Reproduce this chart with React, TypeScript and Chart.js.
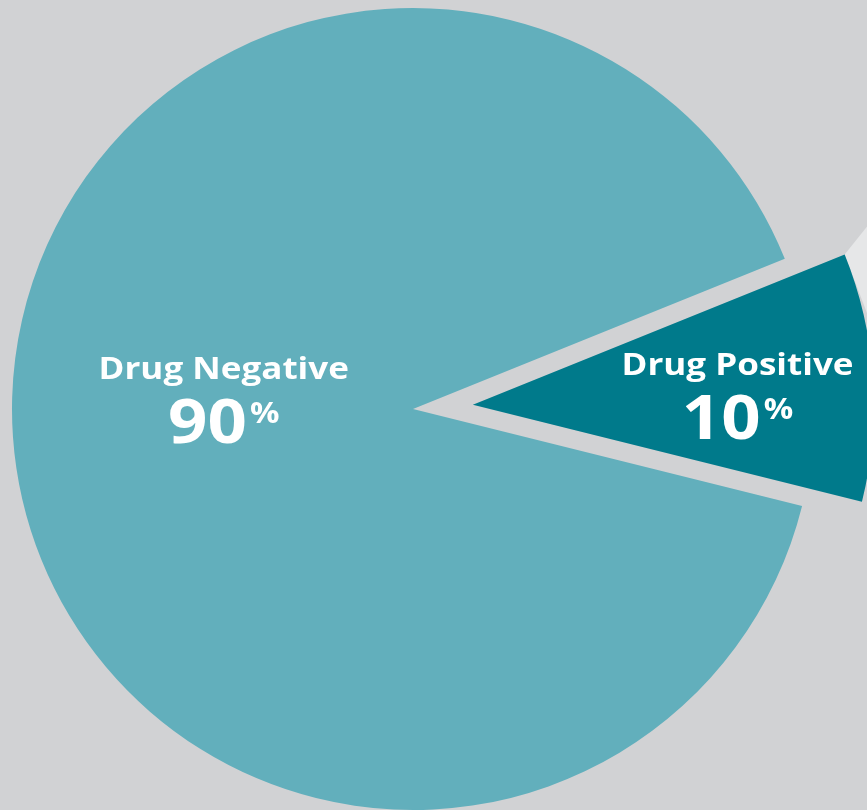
import React, { useEffect, useRef } from 'react';
import { Chart, registerables } from 'chart.js';

Chart.register(...registerables);

const categories = ['Drug Negative', 'Drug Positive'];
const shares = [90, 10];
const shareLabels = ['90', '10'];
const sliceColors = ['#62afbc', '#007a8b'];
const slicePull = [0, 60];

const BG = '#d1d2d4';
const FONT = '"Open Sans", Lato, sans-serif';
const STRETCH = 1.13;

// text spots relative to each slice centre (fraction of radius)
const labelSpots = [
    { dx: -0.472, dy: 0 },
    { dx: 0.66, dy: 0 },
];

const stretchedText = (ctx: CanvasRenderingContext2D, text: string, x: number, y: number) => {
    ctx.save();
    ctx.translate(x, y);
    ctx.scale(STRETCH, 1);
    ctx.fillText(text, 0, 0);
    ctx.restore();
};

const labelPlugin = {
    id: 'sliceLabels',
    afterUpdate(chart: any) {
        // pull slices out along their mid angle, keeping the same radius
        chart.getDatasetMeta(0).data.forEach((arc: any, i: number) => {
            const pull = slicePull[i] || 0;
            if (!pull) return;
            const mid = (arc.startAngle + arc.endAngle) / 2;
            arc.x += Math.cos(mid) * pull;
            arc.y += Math.sin(mid) * pull;
        });
    },
    beforeDatasetsDraw(chart: any) {
        // light panel seen behind the pulled-out slice
        const arc = chart.getDatasetMeta(0).data[1];
        if (!arc) return;
        const { x, y, startAngle, endAngle, outerRadius } = arc;
        const ux = x + Math.cos(startAngle) * outerRadius;
        const uy = y + Math.sin(startAngle) * outerRadius;
        const lx = x + Math.cos(endAngle) * outerRadius;
        const ly = y + Math.sin(endAngle) * outerRadius;
        const ctx = chart.ctx;
        ctx.save();
        ctx.fillStyle = '#e6e7e8';
        ctx.beginPath();
        ctx.moveTo(ux, uy);
        ctx.lineTo(ux + 200, uy - 250);
        ctx.lineTo(ux + 400, uy - 250);
        ctx.lineTo(lx + 400, ly + 200);
        ctx.lineTo(lx + 100, ly + 60);
        ctx.closePath();
        ctx.fill();
        ctx.restore();
    },
    afterDatasetsDraw(chart: any) {
        const ctx = chart.ctx;
        const meta = chart.getDatasetMeta(0);
        meta.data.forEach((arc: any, i: number) => {
            const cx = arc.x + labelSpots[i].dx * arc.outerRadius;
            const cy = arc.y + labelSpots[i].dy * arc.outerRadius;

            ctx.save();
            ctx.fillStyle = '#ffffff';
            ctx.textBaseline = 'alphabetic';
            ctx.textAlign = 'left';

            ctx.font = `bold 31px ${FONT}`;
            const nameW = ctx.measureText(categories[i]).width * STRETCH;
            stretchedText(ctx, categories[i], cx - nameW / 2, cy - 30);

            ctx.font = `bold 61px ${FONT}`;
            const numW = ctx.measureText(shareLabels[i]).width * STRETCH;
            ctx.font = `bold 29px ${FONT}`;
            const pctW = ctx.measureText('%').width * STRETCH;
            const left = cx - (numW + pctW + 3) / 2;
            ctx.font = `bold 61px ${FONT}`;
            stretchedText(ctx, shareLabels[i], left, cy + 34);
            ctx.font = `bold 29px ${FONT}`;
            stretchedText(ctx, '%', left + numW + 3, cy + 14);
            ctx.restore();
        });
    },
};

const PieChart = () => {
    const chartRef = useRef<HTMLCanvasElement>(null);
    const chartInstance = useRef<Chart | null>(null);

    useEffect(() => {
        if (!chartRef.current) return;
        const ctx = chartRef.current.getContext('2d');
        if (!ctx) return;

        if (chartInstance.current) {
            chartInstance.current.destroy();
        }

        chartInstance.current = new Chart(ctx, {
            type: 'pie',
            data: {
                labels: categories,
                datasets: [{
                    data: shares,
                    backgroundColor: sliceColors,
                    borderWidth: 0,
                    clip: false,
                } as any],
            },
            options: {
                responsive: true,
                maintainAspectRatio: false,
                animation: false,
                rotation: 104,
                layout: { padding: { left: 20, top: 20, bottom: 20, right: 120 } },
                plugins: {
                    legend: { display: false },
                    tooltip: { enabled: false },
                },
            },
            plugins: [labelPlugin],
        });

        return () => {
            if (chartInstance.current) {
                chartInstance.current.destroy();
                chartInstance.current = null;
            }
        };
    }, []);

    return (
        <div style={{ position: 'absolute', left: '-8px', top: '-12px', width: '942px', height: '842px' }}>
            <canvas ref={chartRef}></canvas>
        </div>
    );
};

export default function App() {
    return (
        <div style={{ position: 'fixed', inset: 0, background: BG, overflow: 'hidden' }}>
            <PieChart />
        </div>
    );
}
